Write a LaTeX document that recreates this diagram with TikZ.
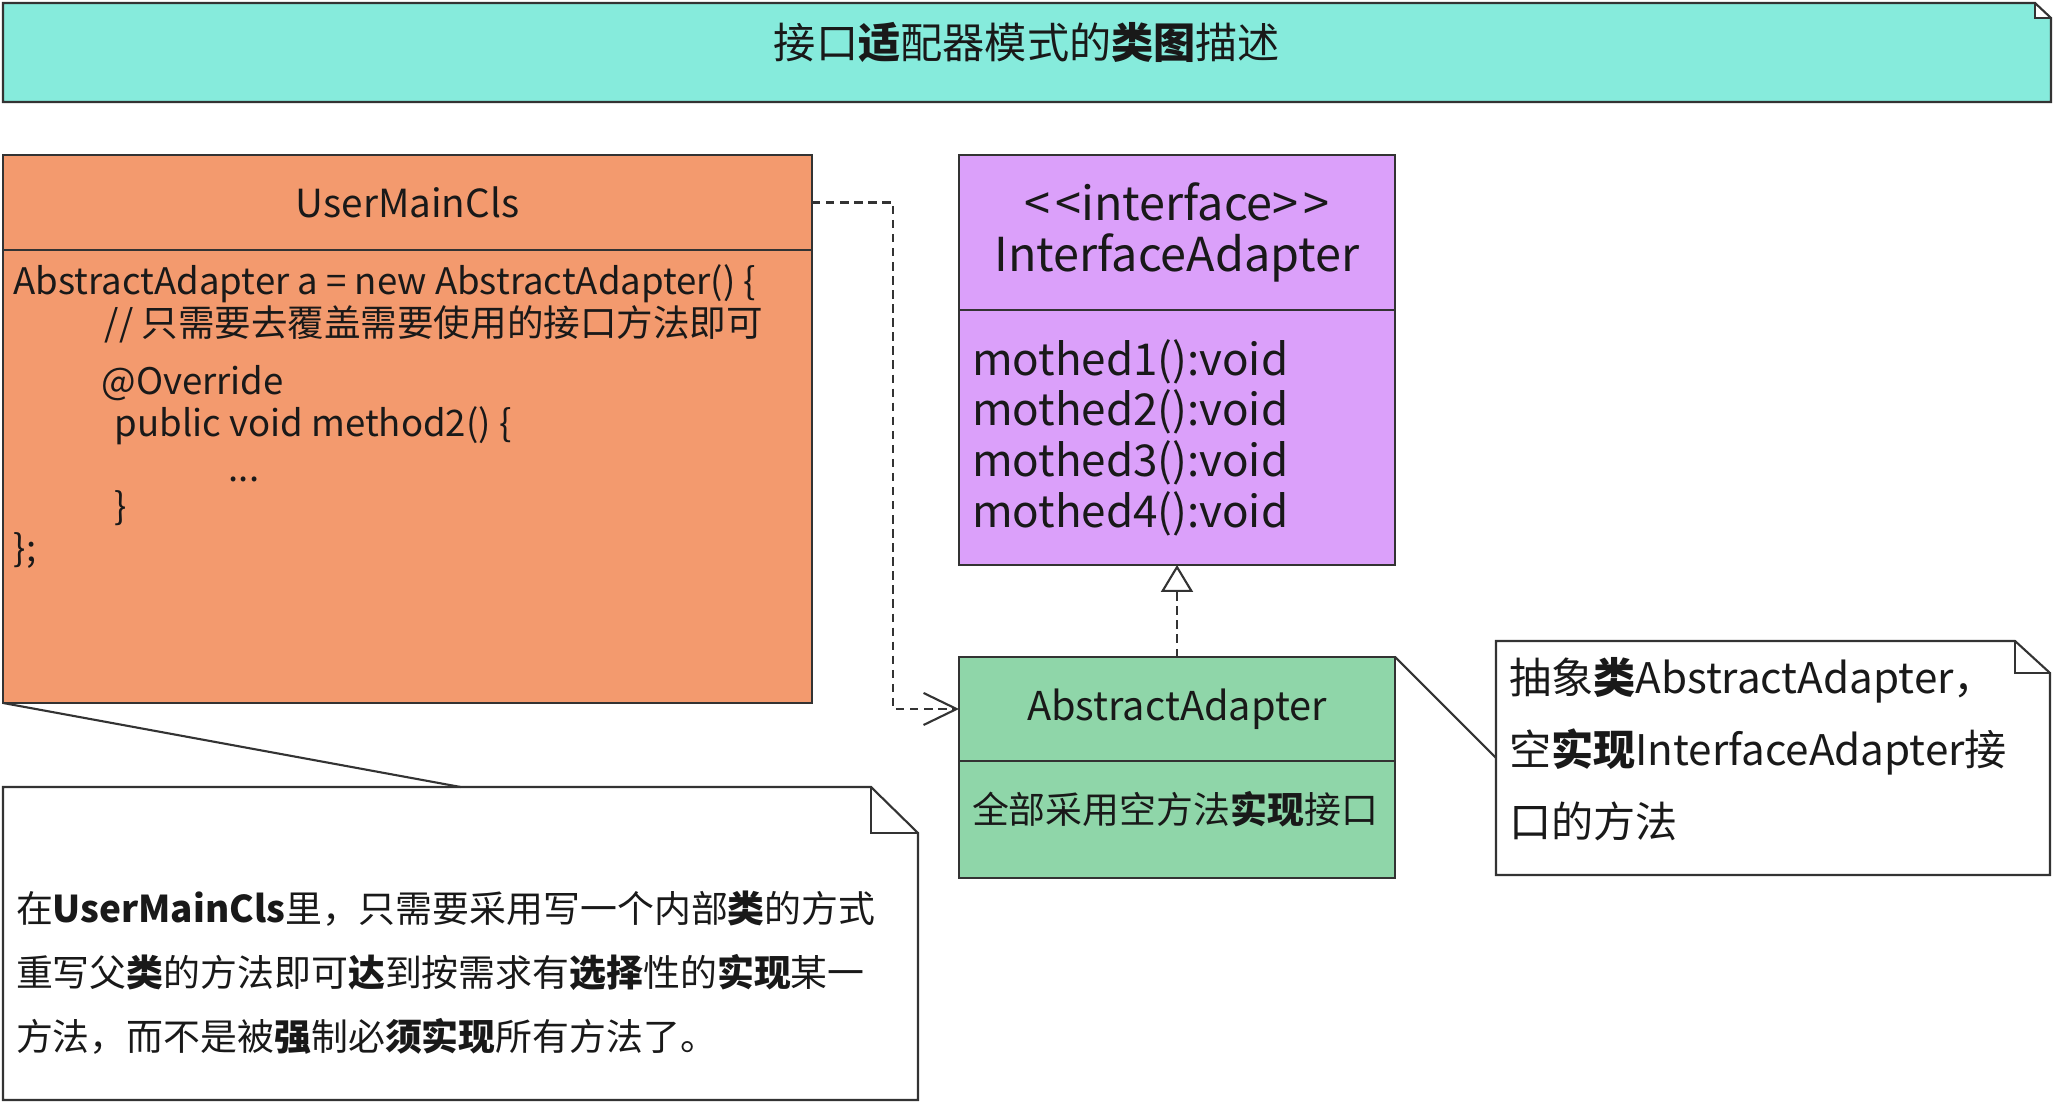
\documentclass[tikz,border=0pt]{standalone}
\usepackage{fontspec}
\setmainfont{Noto Sans CJK SC}
\usepackage{xcolor}
\usepackage{tikz}
\usetikzlibrary{arrows.meta,positioning}

\definecolor{bannerfill}{HTML}{86EBDC}
\definecolor{userfill}{HTML}{F39A6E}
\definecolor{ifacefill}{HTML}{DBA0FA}
\definecolor{absfill}{HTML}{8FD6A9}
\definecolor{linegray}{HTML}{333333}

% note frame with folded corner: node, fold width, fold height
\newcommand{\dogear}[3]{%
  \fill[white] ([xshift=-#2]#1.north east) rectangle ([yshift=-#3]#1.north east);
  \draw[boxline] (#1.north west) -- ([xshift=-#2]#1.north east) -- ([yshift=-#3]#1.north east) -- (#1.south east) -- (#1.south west) -- cycle;
  \draw[boxline] ([xshift=-#2]#1.north east) |- ([yshift=-#3]#1.north east);
}

\begin{document}
\begin{tikzpicture}[
  text=black!90,
  boxline/.style={draw=linegray, line width=0.6pt},
  banner/.style={fill=bannerfill, minimum width=20.48cm, minimum height=0.99cm, inner sep=0pt, outer sep=0pt},
  clshead/.style={boxline, outer sep=0pt, inner sep=0pt},
  clsbody/.style={boxline, outer sep=0pt, inner ysep=0pt},
  note/.style={align=left, inner xsep=0.13cm, inner ysep=0pt, outer sep=0pt},
  codeline/.style={anchor=base west, inner sep=0pt, font=\fontsize{10.4}{13}\selectfont},
  dep/.style={boxline, dash pattern=on 2.4pt off 1.6pt, -{Straight Barb[length=3.3mm,width=3.2mm]}},
  realize/.style={boxline, dash pattern=on 2.4pt off 1.6pt, -{Triangle[open,length=2.7mm,width=3.2mm]}}
]
\useasboundingbox (0,0) rectangle (20.54,-11.04);

% title
\node[banner, anchor=north west] (banner) at (0.03,-0.03) {};
\dogear{banner}{0.16cm}{0.15cm}
\node[font=\fontsize{12}{14}\selectfont] (title) at ([yshift=0.1cm]banner.center) {接口\textbf{适}配器模式的\textbf{类图}描述};

% client class
\node[clshead, fill=userfill, minimum width=8.09cm, minimum height=0.95cm, font=\fontsize{11}{13}\selectfont, anchor=north west] (umc) at (0.03,-1.55) {UserMainCls};
\node[clsbody, fill=userfill, minimum width=8.09cm, minimum height=4.53cm, below=0pt of umc] (umcbody) {};
\node[codeline] (code1) at (0.13,-2.95) {AbstractAdapter a = new AbstractAdapter() \{};
\node[codeline] (code2) at (1.04,-3.37) {// 只需要去覆盖需要使用的接口方法即可};
\node[codeline] (code3) at (1.01,-3.95) {@Override};
\node[codeline] (code4) at (1.14,-4.37) {public void method2() \{};
\node[codeline] (code5) at (2.28,-4.82) {...};
\node[codeline] (code6) at (1.14,-5.20) {\}};
\node[codeline] (code7) at (0.13,-5.62) {\};};

% interface
\node[clshead, fill=ifacefill, minimum width=4.36cm, minimum height=1.55cm, align=center, font=\fontsize{13.3}{14.5}\selectfont, anchor=north west] (ifc) at (9.59,-1.55) {<\kern1.5pt<interface>\kern1.5pt>\\InterfaceAdapter};
\node[clsbody, fill=ifacefill, minimum width=4.36cm, minimum height=2.55cm, text width=4.10cm, inner xsep=0.13cm, align=left, font=\fontsize{12.5}{14.4}\selectfont, below=0pt of ifc] (ifcbody) {mothed1():void\\mothed2():void\\mothed3():void\\mothed4():void};

% adapter class
\node[clshead, fill=absfill, minimum width=4.36cm, minimum height=1.04cm, font=\fontsize{11.3}{14}\selectfont, anchor=north west] (aa) at (9.59,-6.57) {AbstractAdapter};
\node[clsbody, fill=absfill, minimum width=4.36cm, minimum height=1.17cm, text width=4.10cm, inner xsep=0.13cm, align=left, text depth=0.24cm, font=\fontsize{10.5}{12}\selectfont, below=0pt of aa] (aabody) {全部采用空方法\textbf{实现}接口};

% notes
\node[note, minimum width=5.54cm, minimum height=2.34cm, text width=5.28cm, text height=0.19cm, font=\fontsize{12}{20.5}\selectfont, anchor=north west] (rnote) at (14.96,-6.41) {抽象\textbf{类}AbstractAdapter，\\空\textbf{实现}InterfaceAdapter接\\口的方法};
\dogear{rnote}{0.35cm}{0.32cm}
\node[note, minimum width=9.15cm, minimum height=3.13cm, text width=8.89cm, text height=0.9cm, font=\fontsize{10.5}{18.2}\selectfont, anchor=north west] (bnote) at (0.03,-7.87) {在\textbf{UserMainCls}里，只需要采用写一个内部\textbf{类}的方式\\重写父\textbf{类}的方法即可\textbf{达}到按需求有\textbf{选择}性的\textbf{实现}某一\\方法，而不是被\textbf{强}制必\textbf{须实现}所有方法了。};
\dogear{bnote}{0.47cm}{0.46cm}

% connectors
\draw[dep] (umc.east) -- ++(0.81,0) |- (aa.west);
\draw[realize] (aa.north) -- (ifcbody.south);
\draw[boxline] (umcbody.south west) -- (bnote.north);
\draw[boxline] (aa.north east) -- (rnote.west);
\end{tikzpicture}
\end{document}
